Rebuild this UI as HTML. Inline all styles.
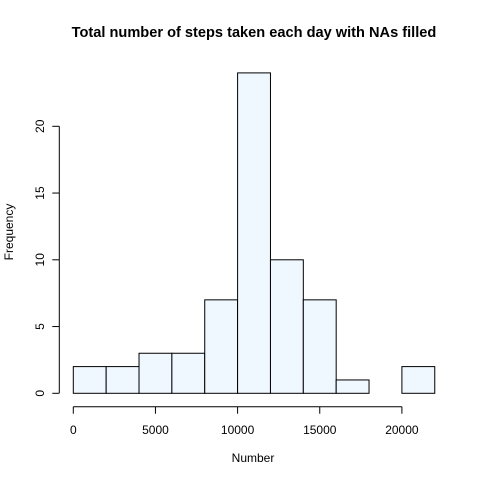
<!DOCTYPE html>
<html><head><meta charset="utf-8"><style>
body{margin:0;background:#fff}
svg text{font-family:"Liberation Sans",Arial,sans-serif;fill:#000}
</style></head><body>
<svg width="480" height="480" xmlns="http://www.w3.org/2000/svg">
<rect width="480" height="480" fill="#fff"/>
<text x="254" y="37" text-anchor="middle" font-size="14.6" font-weight="bold">Total number of steps taken each day with NAs filled</text>
<text x="253" y="462" text-anchor="middle" font-size="12">Number</text>
<text x="0" y="0" transform="translate(13,232) rotate(-90)" text-anchor="middle" font-size="12">Frequency</text>
<g id="bars"></g>
<g id="axes" stroke="#000" fill="none"></g>
<g id="labels" font-size="12"></g>
</svg>
<script>
const breaks=[0,2000,4000,6000,8000,10000,12000,14000,16000,18000,20000,22000];
const counts=[2,2,3,3,7,24,10,7,1,0,2];
const xTicks=[0,5000,10000,15000,20000];
const yTicks=[0,5,10,15,20];
const X=v=>73.3+v*(328.6/20000);
const Y=v=>393.3-v*(267/20);
const NS="http://www.w3.org/2000/svg";
const bars=document.getElementById('bars'),axes=document.getElementById('axes'),labels=document.getElementById('labels');
function mk(tag,at,p){const e=document.createElementNS(NS,tag);for(const k in at)e.setAttribute(k,at[k]);p.appendChild(e);return e;}
counts.forEach((c,i)=>{
  const r=mk('rect',{x:X(breaks[i]),y:Y(c),width:X(breaks[i+1])-X(breaks[i]),height:Y(0)-Y(c),fill:'#F0F8FF',stroke:'#000','stroke-width':1},bars);
  
  
});
const xa=mk('line',{x1:X(xTicks[0]),x2:X(xTicks[xTicks.length-1]),y1:406.7,y2:406.7},axes);


xTicks.forEach(t=>{
  mk('line',{x1:X(t),x2:X(t),y1:406.7,y2:413.7},axes);
  const tx=mk('text',{x:X(t),y:434,'text-anchor':'middle'},labels);tx.textContent=t;
  
  
});
const ya=mk('line',{x1:59.3,x2:59.3,y1:Y(yTicks[0]),y2:Y(yTicks[yTicks.length-1])},axes);


yTicks.forEach(t=>{
  mk('line',{x1:52.3,x2:59.3,y1:Y(t),y2:Y(t)},axes);
  const tx=mk('text',{x:0,y:0,transform:`translate(44,${Y(t)}) rotate(-90)`,'text-anchor':'middle'},labels);tx.textContent=t;
  
  
});
</script>
</body></html>
